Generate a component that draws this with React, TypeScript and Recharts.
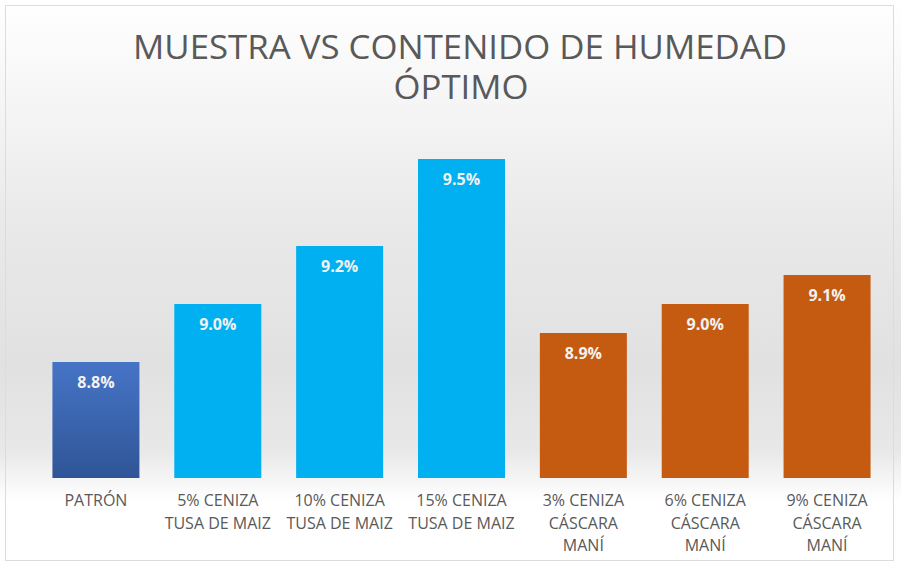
import { BarChart, Bar, XAxis, YAxis, Cell, LabelList } from "recharts";

const categories = [
  "PATRÓN",
  "5% CENIZA|TUSA DE MAIZ",
  "10% CENIZA|TUSA DE MAIZ",
  "15% CENIZA|TUSA DE MAIZ",
  "3% CENIZA|CÁSCARA|MANÍ",
  "6% CENIZA|CÁSCARA|MANÍ",
  "9% CENIZA|CÁSCARA|MANÍ",
];
const humedad = [8.8, 9.0, 9.2, 9.5, 8.9, 9.0, 9.1];
const fills = ["url(#patronGrad)", "#00b0f0", "#00b0f0", "#00b0f0", "#c55a11", "#c55a11", "#c55a11"];

const data = categories.map((name, i) => ({ name, value: humedad[i] }));

const FONT = "'Open Sans', 'Liberation Sans', sans-serif";

function CategoryTick({ x, y, payload }: any) {
  const lines = String(payload.value).split("|");
  return (
    <g transform={`translate(${x},${y})`}>
      {lines.map((ln, i) => (
        <text
          key={i}
          x={0}
          y={i * 22.5 + 20}
          textAnchor="middle"
          fill="#595959"
          fontSize={16}
          fontFamily={FONT}
        >
          {ln}
        </text>
      ))}
    </g>
  );
}

export default function App() {
  return (
    <div
      style={{
        position: "absolute",
        left: 0,
        top: 0,
        width: 901,
        height: 563,
        overflow: "hidden",
        background:
          "linear-gradient(to bottom, #ffffff 0%, #f7f7f7 15%, #e9e9e9 40%, #e1e1e1 65%, #e8e8e8 80%, #ffffff 89%, #ffffff 100%)",
      }}
    >
      <div
        style={{
          position: "absolute",
          left: 5,
          top: 5,
          width: 889,
          height: 556,
          border: "1px solid #dcdcdc",
          boxSizing: "border-box",
        }}
      />
      <svg width={901} height={110} style={{ position: "absolute", left: 0, top: 0 }}>
        <text
          x={460}
          y={59}
          textAnchor="middle"
          fontSize={32}
          fill="#595959"
          fontFamily={FONT}
          textLength={654}
          lengthAdjust="spacingAndGlyphs"
        >
          MUESTRA VS CONTENIDO DE HUMEDAD
        </text>
        <text
          x={461}
          y={99}
          textAnchor="middle"
          fontSize={32}
          fill="#595959"
          fontFamily={FONT}
          textLength={135}
          lengthAdjust="spacingAndGlyphs"
        >
          ÓPTIMO
        </text>
      </svg>
      <BarChart
        width={901}
        height={563}
        data={data}
        margin={{ top: 130, right: 13, bottom: 55, left: 35 }}
        barCategoryGap="14.3%"
        style={{ position: "absolute", left: 0, top: 0 }}
      >
        <defs>
          <linearGradient id="patronGrad" x1="0" y1="0" x2="0" y2="1">
            <stop offset="0%" stopColor="#4674c6" />
            <stop offset="100%" stopColor="#2f5597" />
          </linearGradient>
        </defs>
        <XAxis dataKey="name" height={30} axisLine={false} tickLine={false} tick={<CategoryTick />} interval={0} />
        <YAxis hide domain={[8.4, 9.6]} allowDataOverflow />
        <Bar dataKey="value" isAnimationActive={false}>
          {data.map((d, i) => (
            <Cell key={d.name} fill={fills[i]} />
          ))}
          <LabelList
            dataKey="value"
            position="insideTop"
            offset={15}
            fill="#f2f2f2"
            fontSize={16}
            fontWeight="bold"
            fontFamily={FONT}
            formatter={(v: any) => `${Number(v).toFixed(1)}%`}
          />
        </Bar>
      </BarChart>
    </div>
  );
}
